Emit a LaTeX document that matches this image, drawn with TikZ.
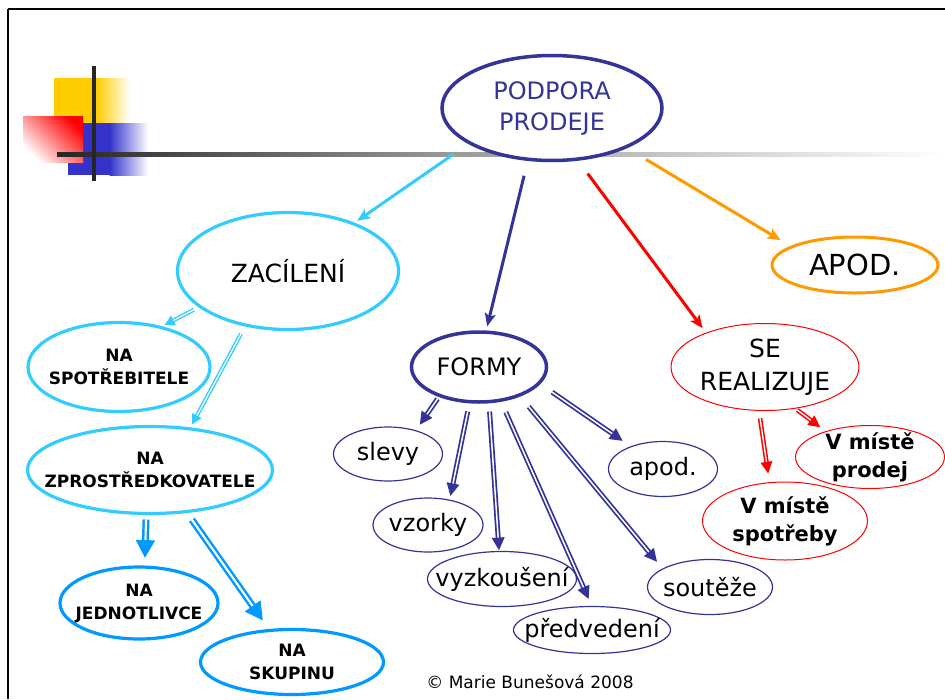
\documentclass[tikz,border=0pt]{standalone}
\usepackage{fontspec}
\setmainfont{DejaVu Sans}
\usetikzlibrary{shapes.geometric, arrows.meta}

\definecolor{podblue}{HTML}{333399}
\definecolor{zcyan}{HTML}{33CCFF}
\definecolor{skyblue}{HTML}{0099FF}
\definecolor{apodorange}{HTML}{FF9900}
\definecolor{realred}{HTML}{FF0000}
\definecolor{decoyellow}{HTML}{FFCC00}
\definecolor{decoblue}{HTML}{3333CC}

\begin{document}
\begin{tikzpicture}
        [
            x = 1pt, y = -1pt,
            oval/.style        = {shape=ellipse, draw, fill=white, inner sep=0pt, outer sep=0pt},
            plain/.style       = {font=\fontsize{24}{31}\selectfont, align=center},
            heavy/.style       = {font=\fontsize{17}{23}\selectfont\bfseries, align=center},
            bigheavy/.style    = {font=\fontsize{21}{28}\selectfont\bfseries, align=center},
            lead/.style        = {line width=3pt, -{Stealth[length=13pt, width=11pt, inset=3pt]}},
            twin/.style n args = {4}{line width=#1, shorten >=#4, -{Triangle[length=#2, width=#3]},
                                     postaction={draw=white, line width=0.3*#1, -, shorten >=#2+#4}},
            cyantwin/.style    = {twin={4pt}{10pt}{10pt}{#1}, draw=zcyan},
            skytwin/.style     = {twin={7pt}{18pt}{18pt}{#1}, draw=skyblue},
            bluetwin/.style    = {twin={5pt}{13pt}{12pt}{#1}, draw=podblue},
            redtwin/.style     = {twin={4.5pt}{12pt}{11pt}{#1}, draw=realred},
            ]
            \useasboundingbox (0,0) rectangle (945,699);

            % frame and corner decoration
            \draw[line width=2.5pt] (8,9) -- (945,9);
            \draw[line width=1.8pt] (8,9) -- (8,699);
            \fill[decoyellow] (54,78) rectangle (97,123);
            \shade[left color=decoyellow, right color=white] (96.5,78) rectangle (130,123);
            \fill[decoblue] (68,123) rectangle (110,175);
            \shade[left color=decoblue, right color=white] (109.5,123) rectangle (148,175);
            \shade[top color=realred, bottom color=white, shading angle=-45] (23,116) rectangle (83,162);
            \shade[left color=black!85, right color=black!40] (57,152) rectangle (450,156);
            \shade[left color=black!40, right color=white] (449.5,152) rectangle (945,156);
            \draw[line width=4pt, black!85] (94,66) -- (94,181);

            % nodes
            \node[oval, draw=podblue, line width=3.5pt, minimum width=220pt, minimum height=105pt,
                  label={[plain, text=podblue]center:PODPORA\\PRODEJE}] (podpora) at (552,108) {};
            \node[oval, draw=zcyan, line width=3.2pt, minimum width=221pt, minimum height=117pt,
                  label={[plain, font=\fontsize{25}{31}\selectfont]center:ZACÍLENÍ}] (zacileni) at (288,271) {};
            \node[oval, draw=podblue, line width=3.5pt, minimum width=135pt, minimum height=70pt,
                  label={[plain]center:FORMY}] (formy) at (479,367) {};
            \node[oval, draw=apodorange, line width=3pt, minimum width=166pt, minimum height=56pt,
                  label={[plain, font=\fontsize{29}{34}\selectfont]center:APOD.}] (apod) at (855,265) {};
            \node[oval, draw=realred, line width=1pt, minimum width=188pt, minimum height=87pt,
                  label={[plain, font=\fontsize{25}{33}\selectfont]center:SE\\REALIZUJE}] (realizuje) at (765,367) {};
            \node[oval, draw=realred, line width=1pt, minimum width=149pt, minimum height=63pt,
                  label={[bigheavy]center:V místě\\prodej}] (prodej) at (870,457) {};
            \node[oval, draw=realred, line width=1pt, minimum width=165pt, minimum height=78pt,
                  label={[bigheavy]center:V místě\\spotřeby}] (spotreby) at (785,521) {};

            \node[oval, draw=podblue, line width=1.2pt, minimum width=109pt, minimum height=54pt,
                  label={[plain]center:slevy}] (slevy) at (388,454) {};
            \node[oval, draw=podblue, line width=1.2pt, minimum width=110pt, minimum height=54pt,
                  label={[plain]center:vzorky}] (vzorky) at (428,525) {};
            \node[oval, draw=podblue, line width=1.2pt, minimum width=149pt, minimum height=55pt,
                  label={[plain]center:vyzkoušení}] (vyzkouseni) at (502,579) {};
            \node[oval, draw=podblue, line width=1.2pt, minimum width=157pt, minimum height=47pt,
                  label={[plain]center:předvedení}] (predvedeni) at (592,630) {};
            \node[oval, draw=podblue, line width=1.2pt, minimum width=125pt, minimum height=55pt,
                  label={[plain]center:soutěže}] (souteze) at (710,587) {};
            \node[oval, draw=podblue, line width=1.2pt, minimum width=109pt, minimum height=55pt,
                  label={[plain]center:apod.}] (apodsmall) at (663,469) {};

            \node[oval, draw=zcyan, line width=3.2pt, minimum width=182pt, minimum height=89pt,
                  label={[heavy]center:NA\\SPOTŘEBITELE}] (spotrebitele) at (119,367) {};
            \node[oval, draw=zcyan, line width=3.2pt, minimum width=245pt, minimum height=87pt,
                  label={[heavy]center:NA\\ZPROSTŘEDKOVATELE}] (zprostredkovatele) at (150,470) {};
            \node[oval, draw=skyblue, line width=3.2pt, minimum width=158pt, minimum height=72pt,
                  label={[heavy]center:NA\\JEDNOTLIVCE}] (jednotlivce) at (139,603) {};
            \node[oval, draw=skyblue, line width=3.2pt, minimum width=183pt, minimum height=65pt,
                  label={[heavy]center:NA\\SKUPINU}] (skupinu) at (292,662) {};

            \node[font=\fontsize{17}{20}\selectfont] (copyright) at (530,682) {© Marie Bunešová 2008};

            % connectors from the top node
            \draw[lead, draw=zcyan, shorten <=20pt, shorten >=5pt] (podpora.203) -- (zacileni.36);
            \draw[lead, draw=podblue, shorten <=17pt, shorten >=6pt] (podpora.245) -- (formy.79);
            \draw[lead, draw=realred, shorten <=18pt, shorten >=6pt] (podpora.296) -- (realizuje.150);
            \draw[lead, draw=apodorange, shorten <=24pt, shorten >=13pt] (podpora.332) -- (apod.164);

            % targeting
            \draw[cyantwin=5pt, shorten <=7pt] (zacileni.202) -- (spotrebitele.44);
            \draw[cyantwin=5pt, shorten <=10pt] (zacileni.232) -- (zprostredkovatele.46);
            \draw[skytwin=9pt, shorten <=6pt] (zprostredkovatele.265) -- (jednotlivce.81);
            \draw[skytwin=12pt, shorten <=10pt] (zprostredkovatele.311) -- (skupinu.125);

            % forms
            \draw[bluetwin=7pt, shorten <=4pt] (formy.216) -- (slevy.40);
            \draw[bluetwin=4pt, shorten <=10pt] (formy.255) -- (vzorky.49);
            \draw[bluetwin=1pt, shorten <=10pt] (formy.286) -- (vyzkouseni.96);
            \draw[bluetwin=8pt, shorten <=13pt] (formy.303) -- (predvedeni.90);
            \draw[bluetwin=9pt, shorten <=15pt] (formy.325) -- (souteze.159);
            \draw[bluetwin=10pt, shorten <=16pt] (formy.345) -- (apodsmall.145);

            % places
            \draw[redtwin=9pt, shorten <=8pt] (realizuje.262) -- (spotreby.112);
            \draw[redtwin=7pt, shorten <=3pt] (realizuje.306) -- (prodej.150);
        \end{tikzpicture}
\end{document}
